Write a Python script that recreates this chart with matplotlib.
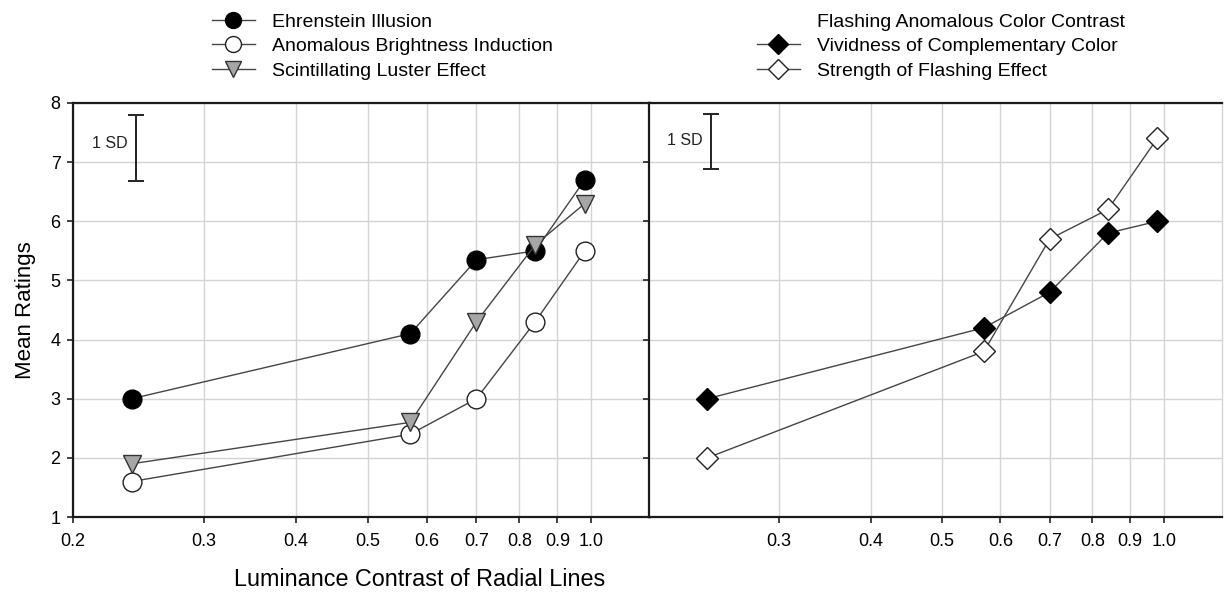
import matplotlib

matplotlib.use("Agg")
import matplotlib.pyplot as plt
from matplotlib.lines import Line2D
from matplotlib.ticker import FixedLocator, NullLocator

plt.rcParams["font.family"] = ["Liberation Sans", "DejaVu Sans"]

# luminance contrast of the radial lines (same for all series)
contrast = [0.24, 0.57, 0.70, 0.84, 0.98]

# left panel
ehrenstein = [3.0, 4.1, 5.35, 5.5, 6.7]
brightness = [1.6, 2.4, 3.0, 4.3, 5.5]
luster = [1.9, 2.6, 4.3, 5.6, 6.3]

# right panel (flashing anomalous color contrast)
vividness = [3.0, 4.2, 4.8, 5.8, 6.0]
flashing = [2.0, 3.8, 5.7, 6.2, 7.4]

# 1 SD reference bars: (bottom, top)
sd_left = (6.68, 7.80)
sd_right = (6.88, 7.81)
sd_x = 0.243

xticks = [0.2, 0.3, 0.4, 0.5, 0.6, 0.7, 0.8, 0.9, 1.0]
xticklabels = ["0.2", "0.3", "0.4", "0.5", "0.6", "0.7", "0.8", "0.9", "1.0"]
yticks = [1, 2, 3, 4, 5, 6, 7, 8]

LINE = "#454545"
GRID = "#d4d4d4"

fig = plt.figure(figsize=(12.24, 5.94), dpi=100)
ax_l = fig.add_axes([73 / 1224, 1 - 517 / 594, 577 / 1224, 414 / 594])
ax_r = fig.add_axes([649 / 1224, 1 - 517 / 594, 573 / 1224, 414 / 594])


def style_axis(ax, ticks, labels):
    ax.set_xscale("log")
    ax.set_xlim(0.2, 1.2)
    ax.set_ylim(1, 8)
    ax.xaxis.set_major_locator(FixedLocator(ticks))
    ax.xaxis.set_minor_locator(NullLocator())
    ax.set_xticks(ticks)
    ax.set_xticklabels(labels)
    ax.set_yticks(yticks)
    ax.grid(True, color=GRID, linewidth=1.0)
    ax.set_axisbelow(True)
    ax.tick_params(axis="both", direction="out", length=4, width=1.2,
                   labelsize=13, color="#222222")
    ax.tick_params(axis="x", pad=7.5)
    ax.tick_params(axis="y", pad=5)
    for side in ("left", "top", "bottom", "right"):
        ax.spines[side].set_linewidth(1.6)
        ax.spines[side].set_color("#1a1a1a")


def sd_bar(ax, lo, hi, text_y):
    ax.errorbar([sd_x], [(lo + hi) / 2], yerr=[(hi - lo) / 2], fmt="none",
                ecolor="#222222", elinewidth=1.4, capsize=6, capthick=1.4)
    ax.annotate("1 SD", xy=(sd_x, text_y), xytext=(-6, 0),
                textcoords="offset points", ha="right", va="center",
                fontsize=11.5, color="#222222")


style_axis(ax_l, xticks, xticklabels)
style_axis(ax_r, xticks[1:], xticklabels[1:])
ax_r.tick_params(axis="y", labelleft=False)
ax_r.spines["right"].set_color(GRID)
ax_r.spines["right"].set_linewidth(1.0)

# left panel series
h_e, = ax_l.plot(contrast, ehrenstein, color=LINE, lw=1.0, marker="o", ms=13.5,
                 mfc="black", mec="black", mew=1.0, label="Ehrenstein Illusion")
h_b, = ax_l.plot(contrast, brightness, color=LINE, lw=1.0, marker="o", ms=13.5,
                 mfc="white", mec="#222222", mew=1.0,
                 label="Anomalous Brightness Induction")
h_s, = ax_l.plot(contrast, luster, color=LINE, lw=1.0, marker="v", ms=13,
                 mfc="#a6a6a6", mec="#333333", mew=1.0,
                 label="Scintillating Luster Effect")
sd_bar(ax_l, *sd_left, text_y=7.32)

# right panel series
h_f, = ax_r.plot(contrast, flashing, color=LINE, lw=1.0, marker="D", ms=11.5,
                 mfc="white", mec="#222222", mew=1.0,
                 label="Strength of Flashing Effect")
h_v, = ax_r.plot(contrast, vividness, color=LINE, lw=1.0, marker="D", ms=11.5,
                 mfc="black", mec="black", mew=1.0,
                 label="Vividness of Complementary Color")
sd_bar(ax_r, *sd_right, text_y=7.36)

leg_kw = dict(frameon=False, fontsize=14, borderpad=0, borderaxespad=0,
              handlelength=2.2, handletextpad=0.88, labelspacing=0.36,
              markerscale=0.85, loc="upper left")
fig.legend(handles=[h_e, h_b, h_s], bbox_to_anchor=(212 / 1224, 0.978), **leg_kw)
blank = Line2D([], [], linestyle="none", marker="none",
               label="Flashing Anomalous Color Contrast")
fig.legend(handles=[blank, h_v, h_f], bbox_to_anchor=(757 / 1224, 0.978), **leg_kw)

fig.text(25 / 1224, 0.478, "Mean Ratings", rotation=90, ha="center",
         va="center", fontsize=16)
fig.text(420 / 1224, 1 - 580 / 594, "Luminance Contrast of Radial Lines",
         ha="center", va="center", fontsize=16.8)

fig.savefig("out.png", dpi=100)
